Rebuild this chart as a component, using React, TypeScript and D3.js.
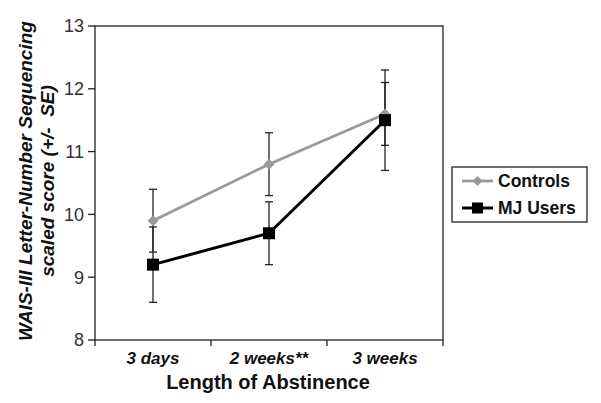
import React from "react";
import * as d3 from "d3";

const categories = ["3 days", "2 weeks**", "3 weeks"];
const controlsMean = [9.9, 10.8, 11.6];
const controlsSE = [0.5, 0.5, 0.5];
const mjMean = [9.2, 9.7, 11.5];
const mjSE = [0.6, 0.5, 0.8];
const yTicks = [8, 9, 10, 11, 12, 13];

const W = 601, H = 403;
const left = 95, right = 443, top = 26, bottom = 340;

export default function App() {
  const x = d3.scaleBand().domain(categories).range([left, right]);
  const y = d3.scaleLinear().domain([8, 13]).range([bottom, top]);
  const cx = (c: string) => (x(c) as number) + x.bandwidth() / 2;
  const line = d3.line<[number, number]>().x(d => d[0]).y(d => d[1]);
  const ctrlPts = categories.map((c, i) => [cx(c), y(controlsMean[i])] as [number, number]);
  const mjPts = categories.map((c, i) => [cx(c), y(mjMean[i])] as [number, number]);
  const gray = "#9a9a9a";
  const errBars = (means: number[], ses: number[]) =>
    categories.map((c, i) => {
      const px = cx(c);
      const y1 = y(means[i] - ses[i]);
      const y2 = y(means[i] + ses[i]);
      return (
        <g key={c} stroke="#222" strokeWidth={1.3}>
          <line x1={px} x2={px} y1={y1} y2={y2} />
          <line x1={px - 4} x2={px + 4} y1={y1} y2={y1} />
          <line x1={px - 4} x2={px + 4} y1={y2} y2={y2} />
        </g>
      );
    });
  const diamond = (px: number, py: number, s = 5) =>
    `M${px},${py - s}L${px + s},${py}L${px},${py + s}L${px - s},${py}Z`;
  const font = "'Liberation Sans', Arial, sans-serif";
  return (
    <svg width={W} height={H} style={{ position: "absolute", left: 0, top: 0, background: "#fff" }} fontFamily={font}>
      <rect x={0} y={0} width={W} height={H} fill="#fff" />
      {/* frame */}
      <rect x={left} y={top} width={right - left} height={bottom - top} fill="none" stroke="#222" strokeWidth={1.3} />
      {/* y ticks */}
      {yTicks.map(t => (
        <g key={t}>
          <line x1={left - 7} x2={left} y1={y(t)} y2={y(t)} stroke="#222" strokeWidth={1.3} />
          <text x={left - 11} y={y(t)} dy="0.35em" textAnchor="end" fontSize={18} fill="#333">{t}</text>
        </g>
      ))}
      {/* x ticks */}
      {[left, ...categories.map(c => (x(c) as number) + x.bandwidth())].map((px, i) => (
        <line key={i} x1={px} x2={px} y1={bottom} y2={bottom + 6} stroke="#222" strokeWidth={1.3} />
      ))}
      {categories.map(c => (
        <text key={c} x={cx(c)} y={358} dy="0.35em" textAnchor="middle" fontSize={17} fontWeight="bold" fontStyle="italic" fill="#111">{c}</text>
      ))}
      <text x={(left + right) / 2 - 1} y={382} dy="0.35em" textAnchor="middle" fontSize={20} fontWeight="bold" fill="#111">Length of Abstinence</text>
      <g transform={`translate(25,${(top + bottom) / 2 - 2}) rotate(-90)`}>
        <text x={0} y={0} dy="0.35em" textAnchor="middle" fontSize={19} fontWeight="bold" fontStyle="italic" fill="#111">WAIS-III Letter-Number Sequencing</text>
        <text x={0} y={22} dy="0.35em" textAnchor="middle" fontSize={19} fontWeight="bold" fontStyle="italic" fill="#111" style={{ whiteSpace: "pre" }}>scaled score (+/-  SE)</text>
      </g>
      {/* error bars */}
      {errBars(controlsMean, controlsSE)}
      {errBars(mjMean, mjSE)}
      {/* lines */}
      <path d={line(ctrlPts) as string} fill="none" stroke={gray} strokeWidth={2.8} />
      {ctrlPts.map((p, i) => <path key={i} d={diamond(p[0], p[1], 5.5)} fill={gray} />)}
      <path d={line(mjPts) as string} fill="none" stroke="#000" strokeWidth={3} />
      {mjPts.map((p, i) => <rect key={i} x={p[0] - 6} y={p[1] - 6} width={12} height={12} fill="#000" />)}
      {/* legend */}
      <rect x={452} y={167} width={135} height={55} fill="#fff" stroke="#222" strokeWidth={1.3} />
      <line x1={462} x2={493} y1={181} y2={181} stroke={gray} strokeWidth={2.8} />
      <path d={diamond(477.5, 181, 5)} fill={gray} />
      <text x={498} y={181} dy="0.35em" fontSize={17.5} fontWeight="bold" fill="#111">Controls</text>
      <line x1={462} x2={493} y1={208} y2={208} stroke="#000" strokeWidth={3} />
      <rect x={472} y={202.5} width={11} height={11} fill="#000" />
      <text x={498} y={208} dy="0.35em" fontSize={17.5} fontWeight="bold" fill="#111">MJ Users</text>
    </svg>
  );
}
